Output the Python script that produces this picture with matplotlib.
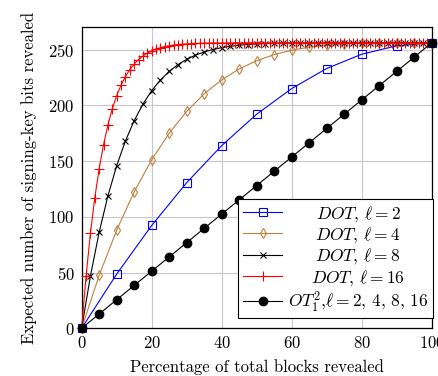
import numpy as np
import matplotlib
matplotlib.use("Agg")
import matplotlib.pyplot as plt

plt.rcParams['font.family'] = 'cmr10'
plt.rcParams['mathtext.fontset'] = 'cm'
plt.rcParams['axes.formatter.use_mathtext'] = True

# DOT, l = 2 (every 10 %)
x_l2 = [0, 10, 20, 30, 40, 50, 60, 70, 80, 90, 100]
y_l2 = [0, 48.6, 92.2, 130.6, 163.8, 192.0, 215.0, 233.0, 245.8, 253.4, 256.0]

# DOT, l = 4 (every 5 %)
x_l4 = [0, 5, 10, 15, 20, 25, 30, 35, 40, 45, 50, 55, 60, 65, 70, 75, 80, 85, 90, 95, 100]
y_l4 = [0, 47.5, 88.0, 122.4, 151.1, 175.0, 194.5, 210.3, 222.8, 232.6, 240.0,
        245.5, 249.4, 252.2, 253.9, 255.0, 255.6, 255.9, 256.0, 256.0, 256.0]

# DOT, l = 8 (every 2.5 %)
x_l8 = [0, 2.5, 5, 7.5, 10, 12.5, 15, 17.5, 20, 22.5, 25, 27.5, 30, 32.5, 35, 37.5,
        40, 42.5, 45, 47.5, 50, 52.5, 55, 57.5, 60, 62.5, 65, 67.5, 70, 72.5, 75,
        77.5, 80, 82.5, 85, 87.5, 90, 92.5, 95, 97.5, 100]
y_l8 = [0, 46.9, 86.2, 118.8, 145.8, 168.0, 186.2, 201.1, 213.1, 222.7, 230.4,
        236.5, 241.2, 245.0, 247.8, 250.0, 251.7, 252.9, 253.9, 254.5, 255.0,
        255.3, 255.6, 255.7, 255.8, 255.9, 255.9, 256.0, 256.0, 256.0, 256.0,
        256.0, 256.0, 256.0, 256.0, 256.0, 256.0, 256.0, 256.0, 256.0, 256.0]

# DOT, l = 16 (every 1.25 %)
x_l16 = [0, 1.25, 2.5, 3.75, 5, 6.25, 7.5, 8.75, 10, 11.25, 12.5, 13.75, 15, 16.25,
         17.5, 18.75, 20, 21.25, 22.5, 23.75, 25, 26.25, 27.5, 28.75, 30, 31.25,
         32.5, 33.75, 35, 36.25, 37.5, 38.75, 40, 41.25, 42.5, 43.75, 45, 46.25,
         47.5, 48.75, 50, 51.25, 52.5, 53.75, 55, 56.25, 57.5, 58.75, 60, 61.25,
         62.5, 63.75, 65, 66.25, 67.5, 68.75, 70, 71.25, 72.5, 73.75, 75, 76.25,
         77.5, 78.75, 80, 81.25, 82.5, 83.75, 85, 86.25, 87.5, 88.75, 90, 91.25,
         92.5, 93.75, 95, 96.25, 97.5, 98.75, 100]
y_l16 = [0, 46.7, 85.3, 117.1, 143.3, 164.8, 182.5, 196.8, 208.6, 218.1, 225.8,
         232.0, 237.0, 241.0, 244.2, 246.8, 248.8, 250.4, 251.7, 252.7, 253.4,
         254.0, 254.5, 254.9, 255.1, 255.4, 255.5, 255.6, 255.7, 255.8, 255.9,
         255.9, 255.9, 255.9, 256.0, 256.0, 256.0, 256.0, 256.0, 256.0, 256.0,
         256.0, 256.0, 256.0, 256.0, 256.0, 256.0, 256.0, 256.0, 256.0, 256.0,
         256.0, 256.0, 256.0, 256.0, 256.0, 256.0, 256.0, 256.0, 256.0, 256.0,
         256.0, 256.0, 256.0, 256.0, 256.0, 256.0, 256.0, 256.0, 256.0, 256.0,
         256.0, 256.0, 256.0, 256.0, 256.0, 256.0, 256.0, 256.0, 256.0, 256.0]

# OT_1^2, all l
x_ot = [0, 5, 10, 15, 20, 25, 30, 35, 40, 45, 50, 55, 60, 65, 70, 75, 80, 85, 90, 95, 100]
y_ot = [0, 12.8, 25.6, 38.4, 51.2, 64.0, 76.8, 89.6, 102.4, 115.2, 128.0, 140.8,
        153.6, 166.4, 179.2, 192.0, 204.8, 217.6, 230.4, 243.2, 256.0]

labels = [r"$DOT$, $\ell = 2$", r"$DOT$, $\ell = 4$", r"$DOT$, $\ell = 8$",
          r"$DOT$, $\ell = 16$", r"$OT_1^2$,$\ell = 2$, 4, 8, 16"]

fig = plt.figure(figsize=(4.38, 3.76), dpi=100)
ax = fig.add_axes([0.1865, 0.127, 0.799, 0.8005])

lw = 0.8
ax.plot(x_l2, y_l2, color="#0000FF", lw=lw, marker="s", ms=6, mfc="none",
        mew=0.8, label=labels[0], clip_on=False, zorder=3)
ax.plot(x_l4, y_l4, color="#BF8040", lw=lw, marker="d", ms=5, mfc="none",
        mew=0.8, label=labels[1], clip_on=False, zorder=3)
ax.plot(x_l8, y_l8, color="black", lw=lw, marker="x", ms=5, mew=0.8,
        label=labels[2], clip_on=False, zorder=3)
ax.plot(x_l16, y_l16, color="#FF0000", lw=lw, marker="+", ms=7, mew=0.8,
        label=labels[3], clip_on=False, zorder=3)
ax.plot(x_ot, y_ot, color="black", lw=lw, marker="o", ms=6,
        label=labels[4], clip_on=False, zorder=3)

ax.set_xlim(0, 100)
ax.set_ylim(0, 270)
ax.set_xticks([0, 20, 40, 60, 80, 100])
ax.set_yticks([0, 50, 100, 150, 200, 250])
ax.tick_params(length=0, labelsize=12, pad=5)
ax.grid(True, color="#C8C8C8", lw=0.8)
ax.set_axisbelow(True)
for s in ax.spines.values():
    s.set_linewidth(0.9)

ax.set_xlabel("Percentage of total blocks revealed", fontsize=12, labelpad=6)
ax.set_ylabel("Expected number of signing-key bits revealed", fontsize=12, labelpad=8)

leg = ax.legend(loc="lower right", bbox_to_anchor=(1.003, 0.034), fontsize=12.5,
                frameon=True, fancybox=False, edgecolor="black", framealpha=1,
                borderaxespad=0, handlelength=2.3, handletextpad=0.3,
                labelspacing=0.08, borderpad=0.25)
leg.get_frame().set_linewidth(0.8)

# center legend texts like pgfplots
fig.canvas.draw()
r = fig.canvas.get_renderer()
texts = leg.get_texts()
widths = [t.get_window_extent(r).width for t in texts]
wmax = max(widths)
for t, w in zip(texts, widths):
    t.set_x((wmax - w) / 2)

plt.savefig("out.png", dpi=100)
